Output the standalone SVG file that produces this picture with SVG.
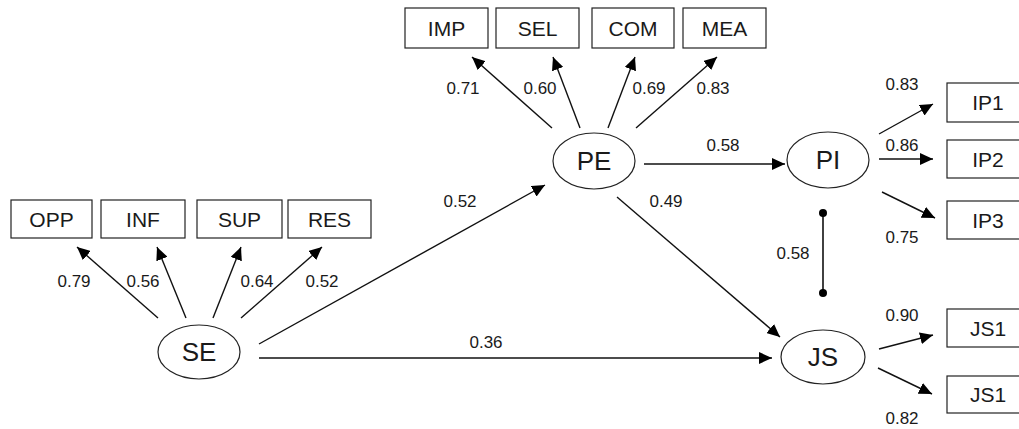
<svg xmlns="http://www.w3.org/2000/svg" width="1019" height="429" viewBox="0 0 1019 429">
<style>
.bg{fill:#fff}
.box{fill:#fff;stroke:#222;stroke-width:1.2}
.ell{fill:#fff;stroke:#222;stroke-width:1.2}
.bt{font-family:"Liberation Sans",Arial,sans-serif;font-size:21px;fill:#1a1a1a;text-anchor:middle;dominant-baseline:central}
.et{font-family:"Liberation Sans",Arial,sans-serif;font-size:26px;fill:#1a1a1a;text-anchor:middle;dominant-baseline:central}
.lt{font-family:"Liberation Sans",Arial,sans-serif;font-size:17px;fill:#1a1a1a;text-anchor:middle;dominant-baseline:central}
.ln{stroke:#111;stroke-width:1.4;fill:none;marker-end:url(#ah)}
.cl{stroke:#111;stroke-width:1.6;fill:none}
</style>
<defs>
<marker id="ah" markerUnits="userSpaceOnUse" markerWidth="14" markerHeight="12" refX="13" refY="6" orient="auto">
<path d="M0,0 L13,6 L0,12 Z" fill="#000"/>
</marker>
</defs>
<rect class="bg" x="0" y="0" width="1019" height="429"/>
<g id="connectors">
<line class="ln" x1="158" y1="318" x2="77" y2="247"/>
<line class="ln" x1="186" y1="318" x2="157" y2="247"/>
<line class="ln" x1="213" y1="318" x2="241" y2="247"/>
<line class="ln" x1="241" y1="318" x2="322" y2="247"/>
<line class="ln" x1="552" y1="128" x2="472" y2="57"/>
<line class="ln" x1="580" y1="128" x2="553" y2="57"/>
<line class="ln" x1="608" y1="128" x2="635" y2="57"/>
<line class="ln" x1="636" y1="128" x2="717" y2="57"/>
<line class="ln" x1="644" y1="164" x2="785" y2="164"/>
<line class="ln" x1="259" y1="344" x2="545" y2="185"/>
<line class="ln" x1="617" y1="197" x2="780" y2="337"/>
<line class="ln" x1="259" y1="358" x2="772" y2="358"/>
<line class="ln" x1="879" y1="134" x2="933" y2="104"/>
<line class="ln" x1="879" y1="159" x2="933" y2="159"/>
<line class="ln" x1="882" y1="192" x2="935" y2="218"/>
<line class="ln" x1="879" y1="349" x2="933" y2="335"/>
<line class="ln" x1="878" y1="368" x2="932" y2="394"/>
<line class="cl" x1="823" y1="213" x2="823" y2="293"/>
<circle cx="823" cy="213" r="4" fill="#000"/>
<circle cx="823" cy="293" r="4" fill="#000"/>
<text class="lt" x="74" y="281">0.79</text>
<text class="lt" x="143" y="281">0.56</text>
<text class="lt" x="257" y="281">0.64</text>
<text class="lt" x="322" y="281">0.52</text>
<text class="lt" x="463" y="88">0.71</text>
<text class="lt" x="540" y="88">0.60</text>
<text class="lt" x="649" y="88">0.69</text>
<text class="lt" x="713" y="88">0.83</text>
<text class="lt" x="723" y="145">0.58</text>
<text class="lt" x="460" y="201">0.52</text>
<text class="lt" x="666" y="201">0.49</text>
<text class="lt" x="486" y="342">0.36</text>
<text class="lt" x="902" y="84">0.83</text>
<text class="lt" x="902" y="145">0.86</text>
<text class="lt" x="902" y="237">0.75</text>
<text class="lt" x="793" y="253">0.58</text>
<text class="lt" x="902" y="315">0.90</text>
<text class="lt" x="902" y="418">0.82</text>
</g>
<g id="OPP"><rect class="box" x="11" y="200" width="81" height="38"/><text class="bt" x="51.5" y="219">OPP</text></g>
<g id="INF"><rect class="box" x="101" y="200" width="84" height="38"/><text class="bt" x="143" y="219">INF</text></g>
<g id="SUP"><rect class="box" x="197" y="200" width="85" height="38"/><text class="bt" x="239.5" y="219">SUP</text></g>
<g id="RES"><rect class="box" x="288" y="200" width="83" height="38"/><text class="bt" x="329.5" y="219">RES</text></g>
<g id="IMP"><rect class="box" x="405" y="8" width="83" height="40"/><text class="bt" x="446.5" y="28">IMP</text></g>
<g id="SEL"><rect class="box" x="496" y="8" width="83" height="40"/><text class="bt" x="537.5" y="28">SEL</text></g>
<g id="COM"><rect class="box" x="592" y="8" width="82" height="40"/><text class="bt" x="633" y="28">COM</text></g>
<g id="MEA"><rect class="box" x="683" y="8" width="83" height="40"/><text class="bt" x="724.5" y="28">MEA</text></g>
<g id="IP1"><rect class="box" x="947" y="83" width="82" height="39"/><text class="bt" x="988" y="102.5">IP1</text></g>
<g id="IP2"><rect class="box" x="947" y="140" width="82" height="38"/><text class="bt" x="988" y="159">IP2</text></g>
<g id="IP3"><rect class="box" x="947" y="201" width="82" height="38"/><text class="bt" x="988" y="220">IP3</text></g>
<g id="JS1a"><rect class="box" x="947" y="309" width="82" height="38"/><text class="bt" x="988" y="328">JS1</text></g>
<g id="JS1b"><rect class="box" x="947" y="376" width="82" height="37"/><text class="bt" x="988" y="394.5">JS1</text></g>
<g id="SE"><ellipse class="ell" cx="199" cy="352" rx="41" ry="27"/><text class="et" x="199" y="352">SE</text></g>
<g id="PE"><ellipse class="ell" cx="594" cy="161" rx="41" ry="28"/><text class="et" x="594" y="161">PE</text></g>
<g id="PI"><ellipse class="ell" cx="828" cy="160" rx="41" ry="28"/><text class="et" x="828" y="160">PI</text></g>
<g id="JS"><ellipse class="ell" cx="823" cy="357" rx="42" ry="27"/><text class="et" x="823" y="357">JS</text></g>
</svg>
